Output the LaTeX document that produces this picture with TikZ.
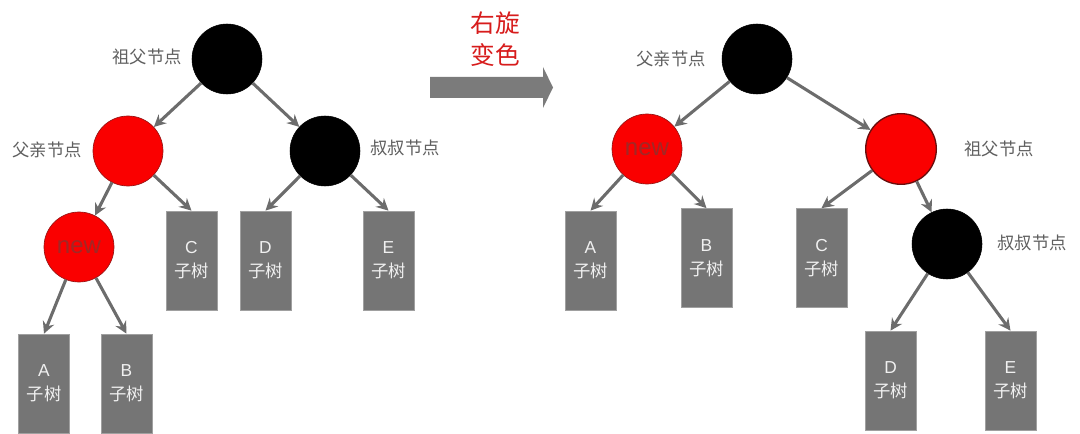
\documentclass[tikz,border=0pt]{standalone}
\usepackage{fontspec}
\setmainfont{Liberation Sans}
\newfontfamily\cjk{Noto Sans CJK SC}
\usetikzlibrary{arrows.meta}
\definecolor{boxgray}{RGB}{117,117,117}
\definecolor{boxline}{RGB}{160,160,160}
\definecolor{arrgray}{RGB}{108,108,108}
\definecolor{labgray}{RGB}{95,95,95}
\definecolor{nodered}{RGB}{250,0,0}
\definecolor{redline}{RGB}{150,20,20}
\definecolor{newtext}{RGB}{160,40,38}
\definecolor{titlered}{RGB}{215,28,28}
\tikzset{
  blk/.style={circle, fill=black, draw=black, minimum size=52.5pt, inner sep=0pt},
  rd/.style={circle, fill=nodered, draw=redline, line width=0.5pt, minimum size=52.5pt, inner sep=0pt},
  rdb/.style={circle, fill=nodered, draw=redline!70!black, line width=1pt, minimum size=53pt, inner sep=0pt},
  subtree/.style={rectangle, fill=boxgray, draw=boxline, line width=0.5pt, minimum width=38.25pt, minimum height=74.25pt, inner sep=0pt, align=center, text=white!94!black, font=\fontsize{13}{18}\selectfont},
  lab/.style={text=labgray, font=\cjk\fontsize{13}{14}\selectfont, inner sep=0pt},
  conn/.style={draw=arrgray, line width=2.3pt, -{Stealth[length=9pt, width=9pt, inset=3pt]}},
  newlab/.style={text=newtext, font=\fontsize{18}{18}\selectfont}
}
\begin{document}
\begin{tikzpicture}[x=0.75pt, y=-0.75pt]
\useasboundingbox (0,0) rectangle (1080,434);
% ---------- left tree ----------
\node[blk] (lg) at (227,59) {};
\node[rd] (lp) at (128,151) {};
\node[blk] (lu) at (325,151) {};
\node[rd, newlab] (ln) at (79,247) {new};
\node[subtree] (lA) at (44,383.5) {A\\{\cjk 子树}};
\node[subtree] (lB) at (126.5,383.5) {B\\{\cjk 子树}};
\node[subtree] (lC) at (191.5,260.5) {C\\{\cjk 子树}};
\node[subtree] (lD) at (265.5,260.5) {D\\{\cjk 子树}};
\node[subtree] (lE) at (388.5,260.5) {E\\{\cjk 子树}};
\node[lab] (lgl) at (147,57) {祖父节点};
\node[lab] (lpl) at (47,150) {父亲节点};
\node[lab] (lul) at (405,148) {叔叔节点};
\draw[conn] (lg) -- (lp);
\draw[conn] (lg) -- (lu);
\draw[conn] (lp) -- (ln);
\draw[conn] (lp) -- (lC.north);
\draw[conn] (lu) -- (lD.north);
\draw[conn] (lu) -- (lE.north);
\draw[conn] (ln) -- (lA.north);
\draw[conn] (ln) -- (lB.north);
% ---------- middle arrow ----------
\fill[arrgray!90!white] (430,77) -- (543,77) -- (543,67) -- (553,87.5) -- (543,108) -- (543,98) -- (430,98) -- cycle;
\node[text=titlered, font=\cjk\fontsize{18.5}{20}\selectfont, inner sep=0pt] (t1) at (495,23) {右旋};
\node[text=titlered, font=\cjk\fontsize{18.5}{20}\selectfont, inner sep=0pt] (t2) at (495,55) {变色};
% ---------- right tree ----------
\node[blk] (rp) at (757,59) {};
\node[rd, newlab] (rn) at (647,149) {new};
\node[rdb] (rg) at (901,149) {};
\node[blk] (ru) at (947,244) {};
\node[subtree] (rA) at (590.5,260.5) {A\\{\cjk 子树}};
\node[subtree] (rB) at (706.5,258) {B\\{\cjk 子树}};
\node[subtree] (rC) at (821.5,258) {C\\{\cjk 子树}};
\node[subtree] (rD) at (890.5,380.5) {D\\{\cjk 子树}};
\node[subtree] (rE) at (1010.5,380.5) {E\\{\cjk 子树}};
\node[lab] (rpl) at (671,59) {父亲节点};
\node[lab] (rgl) at (999,149) {祖父节点};
\node[lab] (rul) at (1032,243) {叔叔节点};
\draw[conn] (rp) -- (rn);
\draw[conn] (rp) -- (rg);
\draw[conn] (rn) -- (rA.north);
\draw[conn] (rn) -- (rB.north);
\draw[conn] (rg) -- (rC.north);
\draw[conn] (rg) -- (ru);
\draw[conn] (ru) -- (rD.north);
\draw[conn] (ru) -- (rE.north);
\end{tikzpicture}
\end{document}
